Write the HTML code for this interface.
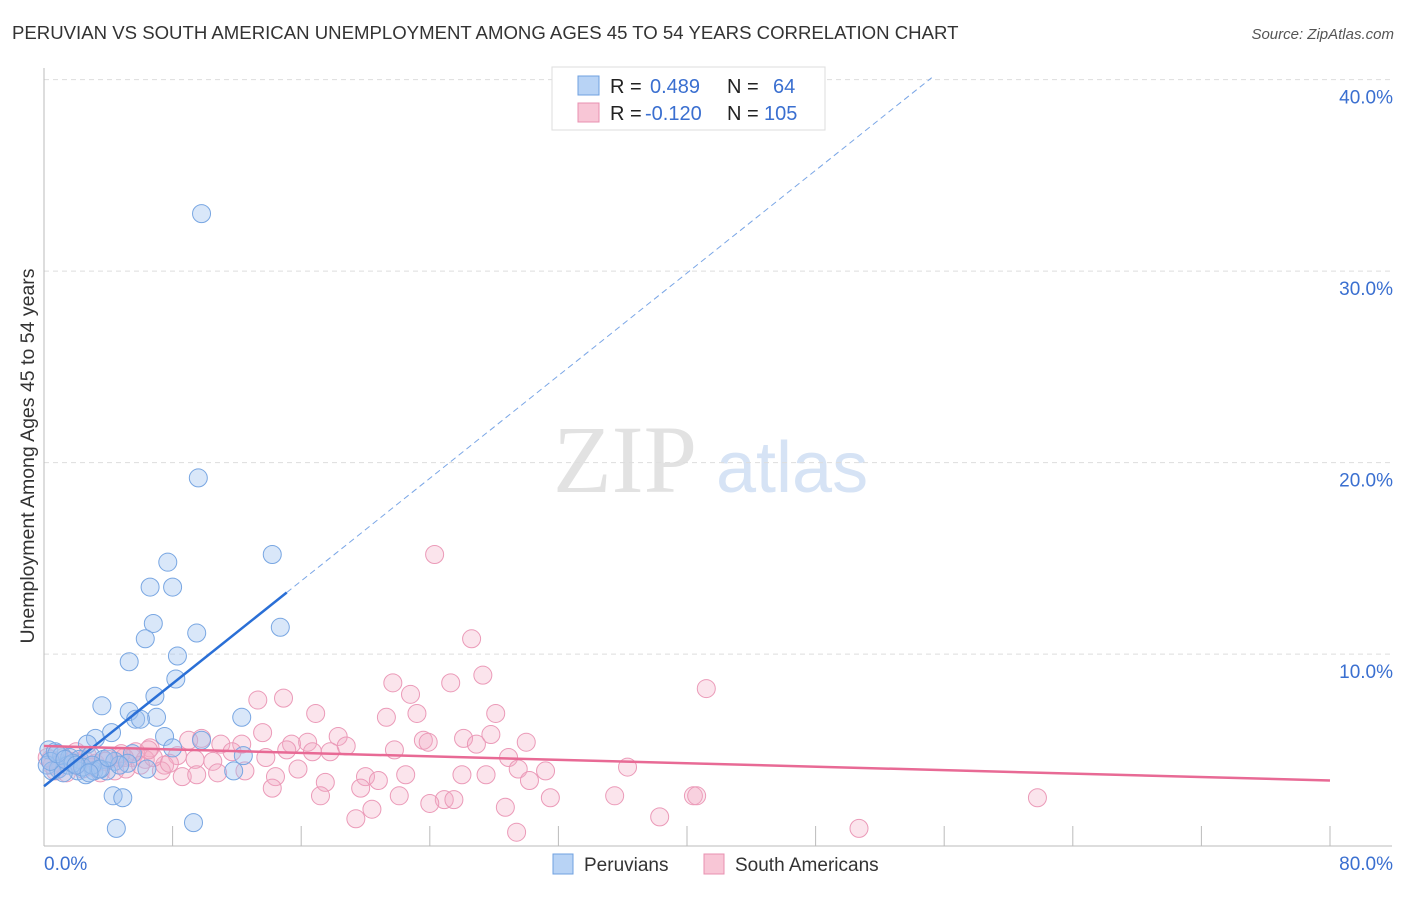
<!DOCTYPE html>
<html><head><meta charset="utf-8"><style>
body{margin:0;background:#fff;font-family:"Liberation Sans",sans-serif;}
</style></head><body>
<svg id="chart" width="1406" height="892" xmlns="http://www.w3.org/2000/svg">
<text x="12" y="39" font-size="18.6" fill="#333">PERUVIAN VS SOUTH AMERICAN UNEMPLOYMENT AMONG AGES 45 TO 54 YEARS CORRELATION CHART</text>
<text x="1394" y="39" font-size="15" fill="#555" font-style="italic" text-anchor="end">Source: ZipAtlas.com</text>
<g>
<text x="553" y="492" font-size="96" font-family="Liberation Serif,serif" fill="#e2e2e2">ZIP</text>
<text x="716" y="492" font-size="72" fill="#d6e3f5">atlas</text>
</g>
<g id="grid"></g>
<g id="axes"></g>
<g id="pink"></g>
<g id="blue"></g>
<g id="lines"></g>
<text transform="translate(34,456) rotate(-90)" font-size="19.5" fill="#333" text-anchor="middle">Unemployment Among Ages 45 to 54 years</text>
<g>
<rect x="552" y="67" width="273" height="63" fill="#fff" stroke="#ddd"/>
<rect x="578" y="76" width="21" height="19" fill="#b8d3f5" stroke="#6fa0e0"/>
<rect x="578" y="103" width="21" height="19" fill="#f8c6d6" stroke="#e890b0"/>
<text x="610" y="93" font-size="20" fill="#222">R = <tspan fill="#3a6fd0" x="650">0.489</tspan><tspan x="727" fill="#222">N =</tspan><tspan x="773" fill="#3a6fd0">64</tspan></text>
<text x="610" y="120" font-size="20" fill="#222">R = <tspan fill="#3a6fd0" x="645">-0.120</tspan><tspan x="727" fill="#222">N =</tspan><tspan x="764" fill="#3a6fd0">105</tspan></text>
</g>
<g>
<rect x="553" y="854" width="20" height="20" fill="#b8d3f5" stroke="#6fa0e0"/>
<text x="584" y="871" font-size="19" fill="#333">Peruvians</text>
<rect x="704" y="854" width="20" height="20" fill="#f8c6d6" stroke="#e890b0"/>
<text x="735" y="871" font-size="19" fill="#333">South Americans</text>
</g>
</svg>
<script>
const yTicks=[10,20,30,40];
const xTickLabels=["0.0%","80.0%"];
const blueX=[9.8,9.6,14.2,7.7,6.6,8.0,14.7,6.8,6.3,9.5,8.3,5.3,8.2,6.9,3.6,5.3,7.0,12.3,5.7,6.0,4.2,7.5,3.2,2.7,9.8,8.0,5.5,0.3,0.7,1.1,1.6,2.2,2.9,3.7,4.4,5.2,12.4,0.2,0.9,1.5,2.1,2.6,3.1,3.9,4.7,6.4,11.8,0.5,1.2,3.4,4.3,4.9,4.5,9.3,0.4,1.8,2.4,3.0,3.5,4.0,0.8,1.3,2.0,2.8];
const blueY=[33.0,19.2,15.2,14.8,13.5,13.5,11.4,11.6,10.8,11.1,9.9,9.6,8.7,7.8,7.3,7.0,6.7,6.7,6.6,6.6,5.9,5.7,5.6,5.3,5.5,5.1,4.8,5.0,4.9,4.7,4.6,4.5,4.7,4.5,4.4,4.3,4.7,4.2,4.0,4.2,3.9,3.7,3.9,3.9,4.2,4.0,3.9,3.9,3.8,4.0,2.6,2.5,0.9,1.2,4.4,4.3,4.1,4.2,4.0,4.6,4.8,4.5,4.2,3.8];
const pinkX=[24.3,26.6,27.3,25.3,21.7,41.2,22.8,13.3,14.9,16.9,23.2,28.1,21.3,13.6,9.8,18.3,15.4,16.4,9.0,11.0,12.3,18.8,26.1,26.9,27.8,30.0,23.6,23.9,21.8,15.1,16.7,17.8,11.7,6.6,5.7,8.3,28.9,13.8,9.4,7.5,10.5,15.8,29.5,31.2,36.3,7.3,8.6,9.5,10.8,12.5,14.4,20.0,20.8,22.5,26.0,27.5,17.5,30.2,19.7,14.2,17.2,22.1,24.9,25.5,24.0,31.5,35.5,40.4,40.6,61.8,28.7,20.4,19.4,38.3,50.7,29.4,0.4,1.0,1.7,2.5,3.2,4.0,4.7,5.5,6.3,0.7,1.4,2.4,3.5,4.4,5.1,6.0,0.2,2.0,2.7,5.0,6.8,7.8,3.0,1.2,0.5,4.8,2.2,3.8,6.5];
const pinkY=[15.2,10.8,8.9,8.5,8.5,8.2,7.9,7.6,7.7,6.9,6.9,6.9,6.7,5.9,5.6,5.7,5.3,5.4,5.5,5.3,5.3,5.2,5.6,5.3,5.8,5.4,5.5,5.4,5.0,5.0,4.9,4.9,4.9,5.1,4.9,4.7,4.6,4.6,4.5,4.2,4.4,4.0,4.0,3.9,4.1,3.9,3.6,3.7,3.8,3.9,3.6,3.6,3.4,3.7,3.7,3.7,3.3,3.4,3.0,3.0,2.6,2.6,2.4,2.4,2.2,2.5,2.6,2.6,2.6,2.5,2.0,1.9,1.4,1.5,0.9,0.7,4.5,4.3,4.4,4.5,4.3,4.5,4.6,4.6,4.5,3.9,3.8,4.0,3.8,3.9,4.0,4.2,4.6,4.9,4.7,4.6,4.6,4.3,4.1,4.6,4.2,4.8,4.3,4.4,5.0];
const blueTrend=[3.1,0.67];
const pinkTrend=[5.2,-0.0225];
const NS="http://www.w3.org/2000/svg";
const X0=44,X1=1330,Y0=845.6,YS=19.15;
const sx=v=>X0+v*(X1-X0)/80;
const sy=v=>Y0-v*YS;
function mk(t,a,p){const e=document.createElementNS(NS,t);for(const k in a)e.setAttribute(k,a[k]);p.appendChild(e);return e;}
const grid=document.getElementById('grid'),axes=document.getElementById('axes');
yTicks.forEach(t=>{
 const l=mk('line',{x1:X0,x2:1392,y1:sy(t),y2:sy(t),stroke:'#ddd','stroke-dasharray':'5,4'},grid);
 
 
 const tx=mk('text',{x:1393,y:sy(t)+24,'font-size':19,fill:'#3a6fd0','text-anchor':'end'},axes);
 tx.textContent=t.toFixed(1)+'%';
 
 
});
mk('line',{x1:X0,x2:X0,y1:68,y2:846,stroke:'#bbb'},axes);
mk('line',{x1:X0,x2:1392,y1:846,y2:846,stroke:'#bbb'},axes);
for(let i=1;i<=10;i++){const x=sx(i*8);mk('line',{x1:x,x2:x,y1:826,y2:846,stroke:'#bbb'},axes);}
const xl=mk('text',{x:44,y:870,'font-size':19,fill:'#3a6fd0'},axes);xl.textContent=xTickLabels[0];


const xr=mk('text',{x:1393,y:870,'font-size':19,fill:'#3a6fd0','text-anchor':'end'},axes);xr.textContent=xTickLabels[1];


const pg=document.getElementById('pink'),bg=document.getElementById('blue');
pinkX.forEach((v,i)=>{const c=mk('circle',{cx:sx(v),cy:sy(pinkY[i]),r:9,fill:'rgba(244,170,195,0.32)',stroke:'#eb9ab8','stroke-width':1},pg);
 
 });
blueX.forEach((v,i)=>{const c=mk('circle',{cx:sx(v),cy:sy(blueY[i]),r:9,fill:'rgba(160,196,240,0.4)',stroke:'#78a6e2','stroke-width':1},bg);
 
 });
const lg=document.getElementById('lines');
const bf=x=>blueTrend[0]+blueTrend[1]*x;
const b1=mk('line',{x1:sx(0),y1:sy(bf(0)),x2:sx(15.1),y2:sy(bf(15.1)),stroke:'#2a6fd6','stroke-width':2.5},lg);


const xe=(40.1-blueTrend[0])/blueTrend[1];
const b2=mk('line',{x1:sx(15.1),y1:sy(bf(15.1)),x2:sx(xe),y2:sy(bf(xe)),stroke:'#7aa6e6','stroke-width':1,'stroke-dasharray':'6,4'},lg);


const pf=x=>pinkTrend[0]+pinkTrend[1]*x;
const p1=mk('line',{x1:sx(0),y1:sy(pf(0)),x2:sx(80),y2:sy(pf(80)),stroke:'#e86a95','stroke-width':2.5},lg);


</script>
</body></html>
